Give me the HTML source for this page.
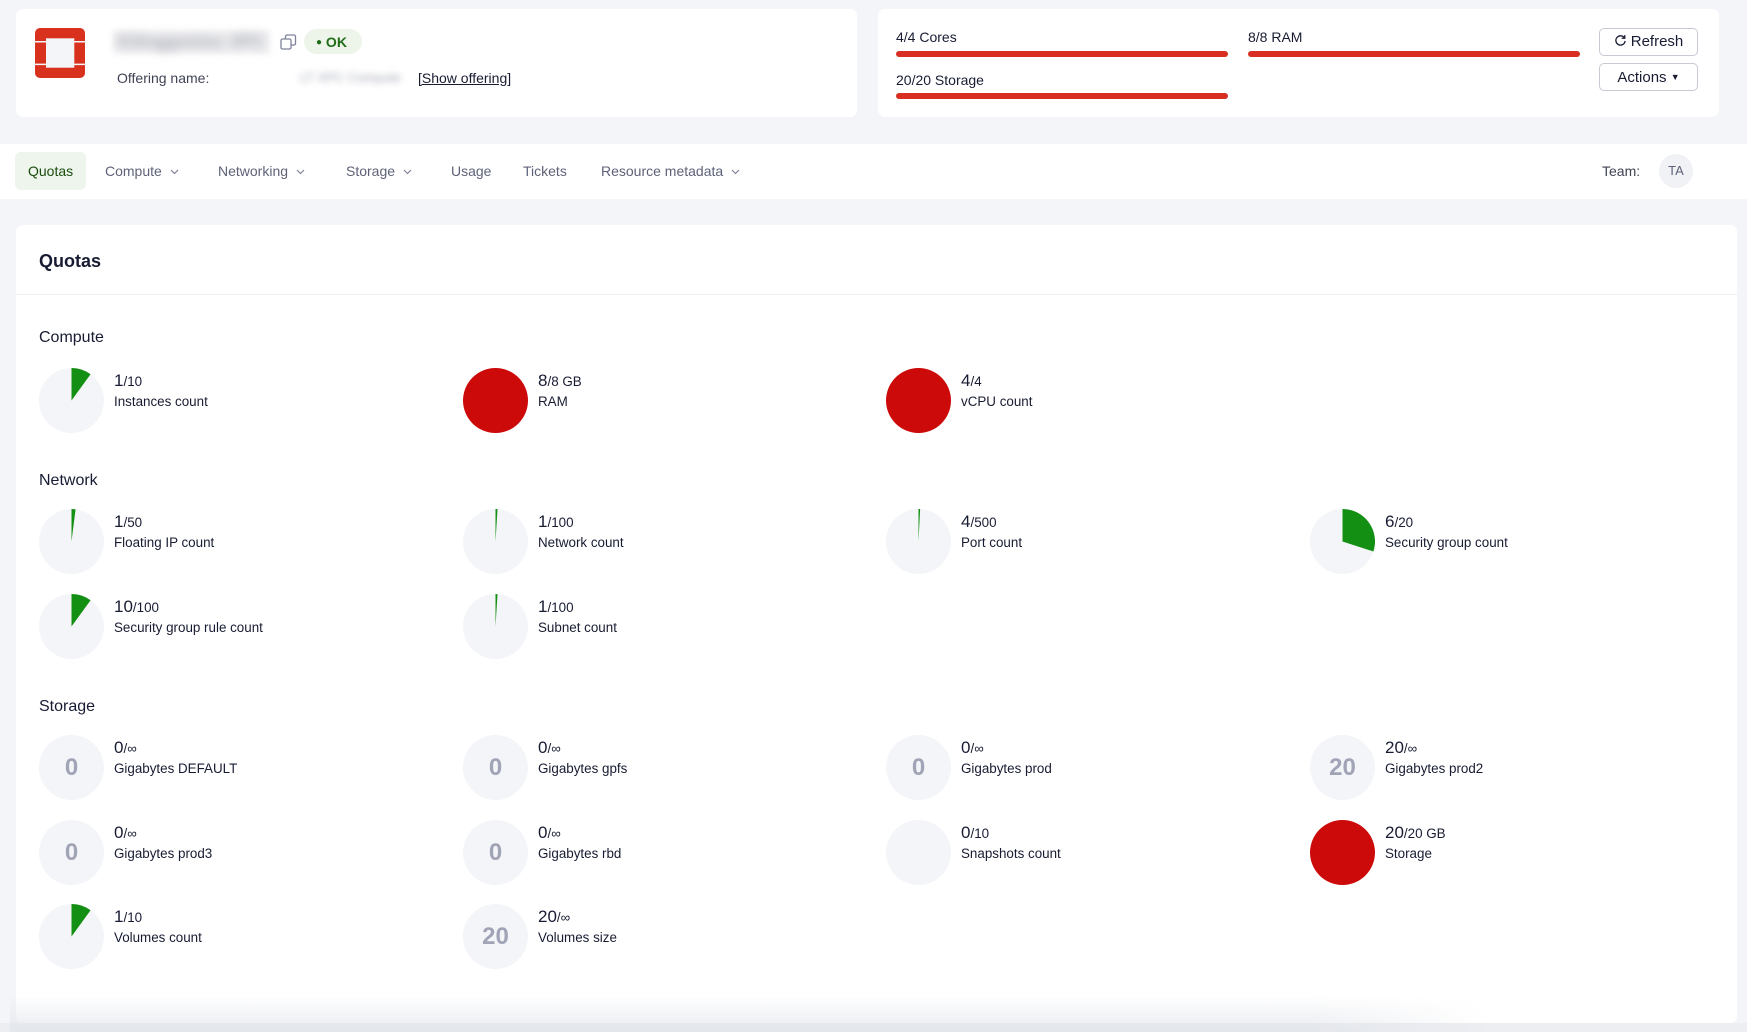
<!DOCTYPE html>
<html>
<head>
<meta charset="utf-8">
<style>
  html,body{margin:0;padding:0;}
  body{width:1747px;height:1032px;position:relative;overflow:hidden;background:#f4f5f8;font-family:"Liberation Sans",Arial,sans-serif;color:#181c32;}
  .abs{position:absolute;}
  .card{position:absolute;background:#fff;border-radius:7px;}
  .t14{font-size:14px;line-height:14px;white-space:nowrap;}
  .nav{position:absolute;top:164px;font-size:14px;line-height:14px;color:#5e6278;white-space:nowrap;}
  .chev{display:inline-block;margin-left:8px;vertical-align:1px;}
  .bar{position:absolute;height:6px;border-radius:3px;background:#d92f22;}
  .btn{position:absolute;left:1599px;width:99px;border:1px solid #c8cad3;border-radius:5px;background:#fff;font-size:15px;color:#181c32;text-align:center;box-sizing:border-box;}
  .sec{position:absolute;left:39px;font-size:16px;line-height:16px;color:#181c32;white-space:nowrap;}
  .item{position:absolute;width:400px;height:65px;}
  .item svg{position:absolute;left:0;top:0;}
  .num{position:absolute;left:75px;top:4px;font-size:17px;line-height:17px;white-space:nowrap;color:#181c32;}
  .num span{font-size:13.4px;line-height:1;}
  .lbl{position:absolute;left:75px;top:27px;font-size:13.4px;line-height:13.4px;white-space:nowrap;color:#181c32;}
  .inner{position:absolute;left:0;top:0;width:65px;height:65px;display:flex;align-items:center;justify-content:center;font-size:24px;line-height:24px;color:#a0a4b6;font-weight:bold;}
</style>
</head>
<body>

<!-- Card 1 -->
<div class="card" style="left:16px;top:9px;width:841px;height:108px;"></div>
<svg class="abs" style="left:35px;top:28px" width="50" height="50" viewBox="0 0 50 50">
  <rect x="0" y="0" width="50" height="50" rx="5" fill="#d8321f"/>
  <rect x="0" y="13" width="50" height="1.5" fill="#f4f5f8"/>
  <rect x="0" y="35.6" width="50" height="1.5" fill="#f4f5f8"/>
  <rect x="11" y="10.3" width="28.3" height="29.4" fill="#f4f5f8"/>
</svg>
<div class="abs" style="left:113px;top:30px;width:157px;height:24px;background:#f0f0f2;filter:blur(3px);"></div>
<div class="abs" style="left:118px;top:33px;font-size:17px;line-height:18px;font-weight:bold;color:#a2a5b0;filter:blur(5px);white-space:nowrap;">Kitinggsmisc XPC</div>
<svg class="abs" style="left:280px;top:34px" width="17" height="16" viewBox="0 0 17 16">
  <rect x="5.5" y="1" width="10" height="10" rx="1.5" fill="none" stroke="#7e8299" stroke-width="1.3"/>
  <rect x="1" y="5" width="10" height="10" rx="1.5" fill="#fff" stroke="#7e8299" stroke-width="1.3"/>
</svg>
<div class="abs" style="left:304px;top:29px;width:58px;height:25px;border-radius:13px;background:#edf5ea;"></div>
<div class="abs" style="left:316px;top:36px;font-size:14px;line-height:12px;font-weight:bold;color:#1f6b17;white-space:nowrap;"><span style="font-size:10px;vertical-align:2px;">●</span>&nbsp;OK</div>
<div class="abs t14" style="left:117px;top:71px;color:#3f4254;">Offering name:</div>
<div class="abs" style="left:300px;top:71px;font-size:13px;line-height:14px;color:#a5a8b5;filter:blur(3.5px);white-space:nowrap;">LT XPC Compute</div>
<div class="abs t14" style="left:418px;top:71px;color:#181c32;text-decoration:underline;">[Show offering]</div>

<!-- Card 2 -->
<div class="card" style="left:878px;top:9px;width:841px;height:108px;"></div>
<div class="abs t14" style="left:896px;top:30px;">4/4 Cores</div>
<div class="bar" style="left:896px;top:51px;width:332px;"></div>
<div class="abs t14" style="left:1248px;top:30px;">8/8 RAM</div>
<div class="bar" style="left:1248px;top:51px;width:332px;"></div>
<div class="abs t14" style="left:896px;top:72.5px;">20/20 Storage</div>
<div class="bar" style="left:896px;top:93px;width:332px;"></div>
<div class="btn" style="top:28px;height:28px;line-height:26px;">
  <svg width="13" height="13" viewBox="0 0 14 14" style="vertical-align:-1px;margin-right:4px"><path d="M11.2 4.2 A5 5 0 1 0 12 7.5" fill="none" stroke="#181c32" stroke-width="1.4"/><path d="M11.6 1.2 L11.6 4.6 L8.3 4.6" fill="none" stroke="#181c32" stroke-width="1.4"/></svg>Refresh</div>
<div class="btn" style="top:63px;height:28px;line-height:26px;">Actions <span style="font-size:9px;vertical-align:2px;">▼</span></div>

<!-- Nav -->
<div class="abs" style="left:0;top:144px;width:1747px;height:55px;background:#fff;"></div>
<div class="abs" style="left:15px;top:152px;width:71px;height:38px;border-radius:6px;background:#eef5ec;"></div>
<div class="nav" style="left:28px;color:#1b4d0e;">Quotas</div>
<div class="nav" style="left:105px;">Compute<svg class="chev" width="9" height="6" viewBox="0 0 9 6"><path d="M1 1 L4.5 4.5 L8 1" fill="none" stroke="#7e8299" stroke-width="1.2"/></svg></div>
<div class="nav" style="left:218px;">Networking<svg class="chev" width="9" height="6" viewBox="0 0 9 6"><path d="M1 1 L4.5 4.5 L8 1" fill="none" stroke="#7e8299" stroke-width="1.2"/></svg></div>
<div class="nav" style="left:346px;">Storage<svg class="chev" width="9" height="6" viewBox="0 0 9 6"><path d="M1 1 L4.5 4.5 L8 1" fill="none" stroke="#7e8299" stroke-width="1.2"/></svg></div>
<div class="nav" style="left:451px;">Usage</div>
<div class="nav" style="left:523px;">Tickets</div>
<div class="nav" style="left:601px;">Resource metadata<svg class="chev" width="9" height="6" viewBox="0 0 9 6"><path d="M1 1 L4.5 4.5 L8 1" fill="none" stroke="#7e8299" stroke-width="1.2"/></svg></div>
<div class="nav" style="left:1602px;color:#3f4254;">Team:</div>
<div class="abs" style="left:1659px;top:154px;width:34px;height:34px;border-radius:50%;background:#f1f2f6;color:#5e6278;font-size:13px;line-height:34px;text-align:center;">TA</div>

<!-- Quotas card -->
<div class="card" style="left:16px;top:225px;width:1721px;height:798px;"></div>
<div class="abs" style="left:16px;top:294px;width:1721px;height:1px;background:#eff0f3;"></div>
<div class="abs" style="left:39px;top:252px;font-size:18px;line-height:18px;font-weight:bold;color:#181c32;">Quotas</div>

<div class="sec" style="top:330px;">Compute</div>
<div class="sec" style="top:473px;">Network</div>
<div class="sec" style="top:698.5px;">Storage</div>

<!-- Compute -->
<div class="item" style="left:39px;top:368px;">
  <svg width="65" height="65"><circle cx="32.5" cy="32.5" r="32.5" fill="#f4f5f8"/><path d="M32.5 32.5 L32.5 0 A32.5 32.5 0 0 1 51.6 6.21 Z" fill="#138f13"/></svg>
  <div class="num">1<span>/10</span></div><div class="lbl">Instances count</div>
</div>
<div class="item" style="left:463px;top:368px;">
  <svg width="65" height="65"><circle cx="32.5" cy="32.5" r="32.5" fill="#cc0a0a"/></svg>
  <div class="num">8<span>/8 GB</span></div><div class="lbl">RAM</div>
</div>
<div class="item" style="left:886px;top:368px;">
  <svg width="65" height="65"><circle cx="32.5" cy="32.5" r="32.5" fill="#cc0a0a"/></svg>
  <div class="num">4<span>/4</span></div><div class="lbl">vCPU count</div>
</div>

<!-- Network -->
<div class="item" style="left:39px;top:509px;">
  <svg width="65" height="65"><circle cx="32.5" cy="32.5" r="32.5" fill="#f4f5f8"/><path d="M32.5 32.5 L32.5 0 A32.5 32.5 0 0 1 36.57 0.26 Z" fill="#138f13"/></svg>
  <div class="num">1<span>/50</span></div><div class="lbl">Floating IP count</div>
</div>
<div class="item" style="left:463px;top:509px;">
  <svg width="65" height="65"><circle cx="32.5" cy="32.5" r="32.5" fill="#f4f5f8"/><path d="M32.5 32.5 L32.5 0 A32.5 32.5 0 0 1 34.54 0.07 Z" fill="#138f13"/></svg>
  <div class="num">1<span>/100</span></div><div class="lbl">Network count</div>
</div>
<div class="item" style="left:886px;top:509px;">
  <svg width="65" height="65"><circle cx="32.5" cy="32.5" r="32.5" fill="#f4f5f8"/><path d="M32.5 32.5 L32.5 0 A32.5 32.5 0 0 1 34.13 0.04 Z" fill="#138f13"/></svg>
  <div class="num">4<span>/500</span></div><div class="lbl">Port count</div>
</div>
<div class="item" style="left:1310px;top:509px;">
  <svg width="65" height="65"><circle cx="32.5" cy="32.5" r="32.5" fill="#f4f5f8"/><path d="M32.5 32.5 L32.5 0 A32.5 32.5 0 0 1 63.41 42.54 Z" fill="#138f13"/></svg>
  <div class="num">6<span>/20</span></div><div class="lbl">Security group count</div>
</div>
<div class="item" style="left:39px;top:594px;">
  <svg width="65" height="65"><circle cx="32.5" cy="32.5" r="32.5" fill="#f4f5f8"/><path d="M32.5 32.5 L32.5 0 A32.5 32.5 0 0 1 51.6 6.21 Z" fill="#138f13"/></svg>
  <div class="num">10<span>/100</span></div><div class="lbl">Security group rule count</div>
</div>
<div class="item" style="left:463px;top:594px;">
  <svg width="65" height="65"><circle cx="32.5" cy="32.5" r="32.5" fill="#f4f5f8"/><path d="M32.5 32.5 L32.5 0 A32.5 32.5 0 0 1 34.54 0.07 Z" fill="#138f13"/></svg>
  <div class="num">1<span>/100</span></div><div class="lbl">Subnet count</div>
</div>

<!-- Storage -->
<div class="item" style="left:39px;top:735px;">
  <svg width="65" height="65"><circle cx="32.5" cy="32.5" r="32.5" fill="#f4f5f8"/></svg><div class="inner">0</div>
  <div class="num">0<span>/∞</span></div><div class="lbl">Gigabytes DEFAULT</div>
</div>
<div class="item" style="left:463px;top:735px;">
  <svg width="65" height="65"><circle cx="32.5" cy="32.5" r="32.5" fill="#f4f5f8"/></svg><div class="inner">0</div>
  <div class="num">0<span>/∞</span></div><div class="lbl">Gigabytes gpfs</div>
</div>
<div class="item" style="left:886px;top:735px;">
  <svg width="65" height="65"><circle cx="32.5" cy="32.5" r="32.5" fill="#f4f5f8"/></svg><div class="inner">0</div>
  <div class="num">0<span>/∞</span></div><div class="lbl">Gigabytes prod</div>
</div>
<div class="item" style="left:1310px;top:735px;">
  <svg width="65" height="65"><circle cx="32.5" cy="32.5" r="32.5" fill="#f4f5f8"/></svg><div class="inner">20</div>
  <div class="num">20<span>/∞</span></div><div class="lbl">Gigabytes prod2</div>
</div>
<div class="item" style="left:39px;top:820px;">
  <svg width="65" height="65"><circle cx="32.5" cy="32.5" r="32.5" fill="#f4f5f8"/></svg><div class="inner">0</div>
  <div class="num">0<span>/∞</span></div><div class="lbl">Gigabytes prod3</div>
</div>
<div class="item" style="left:463px;top:820px;">
  <svg width="65" height="65"><circle cx="32.5" cy="32.5" r="32.5" fill="#f4f5f8"/></svg><div class="inner">0</div>
  <div class="num">0<span>/∞</span></div><div class="lbl">Gigabytes rbd</div>
</div>
<div class="item" style="left:886px;top:820px;">
  <svg width="65" height="65"><circle cx="32.5" cy="32.5" r="32.5" fill="#f4f5f8"/></svg>
  <div class="num">0<span>/10</span></div><div class="lbl">Snapshots count</div>
</div>
<div class="item" style="left:1310px;top:820px;">
  <svg width="65" height="65"><circle cx="32.5" cy="32.5" r="32.5" fill="#cc0a0a"/></svg>
  <div class="num">20<span>/20 GB</span></div><div class="lbl">Storage</div>
</div>
<div class="item" style="left:39px;top:904px;">
  <svg width="65" height="65"><circle cx="32.5" cy="32.5" r="32.5" fill="#f4f5f8"/><path d="M32.5 32.5 L32.5 0 A32.5 32.5 0 0 1 51.6 6.21 Z" fill="#138f13"/></svg>
  <div class="num">1<span>/10</span></div><div class="lbl">Volumes count</div>
</div>
<div class="item" style="left:463px;top:904px;">
  <svg width="65" height="65"><circle cx="32.5" cy="32.5" r="32.5" fill="#f4f5f8"/></svg><div class="inner">20</div>
  <div class="num">20<span>/∞</span></div><div class="lbl">Volumes size</div>
</div>

<!-- bottom fade -->
<div class="abs" style="left:0;top:1023px;width:1747px;height:9px;background:#eceef2;"></div>
<div class="abs" style="left:10px;top:996px;width:1480px;height:36px;background:linear-gradient(to bottom, rgba(225,228,234,0) 0%, rgba(225,228,234,0.75) 100%);-webkit-mask-image:linear-gradient(to right, #000 0%, #000 88%, transparent 100%);mask-image:linear-gradient(to right, #000 0%, #000 88%, transparent 100%);"></div>

</body>
</html>
